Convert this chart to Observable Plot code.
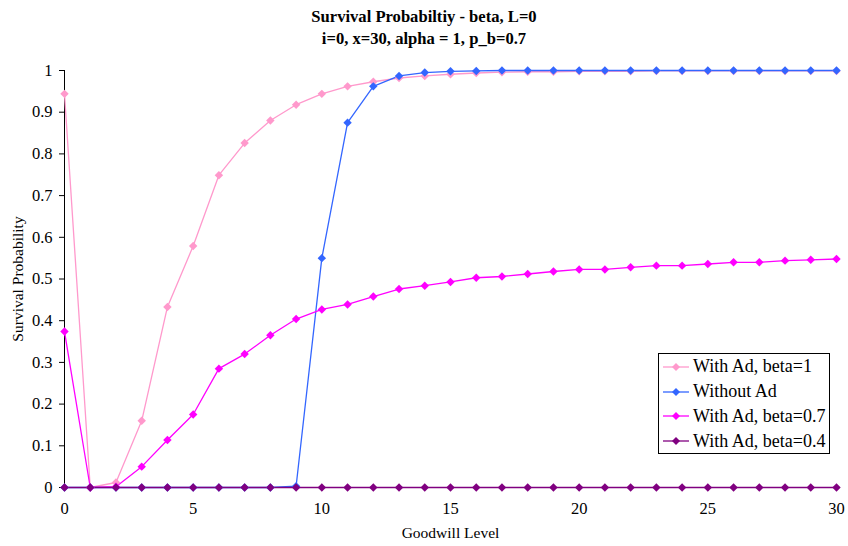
<!DOCTYPE html>
<html>
<head>
<meta charset="utf-8">
<script src="https://cdn.jsdelivr.net/npm/d3@7"></script>
<script src="https://cdn.jsdelivr.net/npm/@observablehq/plot@0.6"></script>
<style>
  html, body { margin: 0; padding: 0; background: #fff; }
  body { width: 848px; height: 546px; position: relative; font-family: "Liberation Serif", "Times New Roman", Times, "DejaVu Serif", serif; }
  #title { height: 50px; text-align: center; font-weight: bold; font-size: 16.6px; line-height: 22px; padding-top: 6px; box-sizing: border-box; color: #000; }
  #legend { position: absolute; left: 658px; top: 353px; width: 172px; height: 101px; border: 1px solid #000; background: #fff; box-sizing: border-box; font-size: 18px; padding-top: 0.5px; }
  .item { display: flex; align-items: center; height: 24.8px; white-space: nowrap; }
  .item svg { margin-left: 4px; margin-right: 4px; flex: none; }
  #chart svg, #chart svg text { font-family: "Liberation Serif", "Times New Roman", Times, "DejaVu Serif", serif !important; }
</style>
</head>
<body>
<div id="title">Survival Probabiltiy - beta, L=0<br>i=0, x=30, alpha = 1, p_b=0.7</div>
<div id="chart"></div>
<div id="legend"></div>
<script>
const levels = d3.range(0, 31);
const seriesNames = ["With Ad, beta=1", "Without Ad", "With Ad, beta=0.7", "With Ad, beta=0.4"];
const seriesColors = ["#FF99CC", "#3366FF", "#FF00FF", "#800080"];
const withAdBeta1 = [0.944, 0, 0.012, 0.16, 0.433, 0.579, 0.749, 0.826, 0.880, 0.918, 0.944, 0.962, 0.973, 0.982, 0.987, 0.991, 0.994, 0.996, 0.997, 0.997, 0.998, 0.998, 0.998, 0.999, 0.999, 0.999, 0.999, 0.999, 0.999, 0.999, 0.999];
const withoutAd = [0, 0, 0, 0, 0, 0, 0, 0, 0, 0.003, 0.55, 0.875, 0.962, 0.987, 0.995, 0.998, 0.999, 1, 1, 1, 1, 1, 1, 1, 1, 1, 1, 1, 1, 1, 1];
const withAdBeta07 = [0.374, 0, 0.002, 0.05, 0.114, 0.175, 0.285, 0.32, 0.365, 0.404, 0.427, 0.439, 0.458, 0.476, 0.484, 0.493, 0.503, 0.506, 0.512, 0.518, 0.523, 0.523, 0.528, 0.532, 0.532, 0.536, 0.540, 0.540, 0.544, 0.546, 0.548];
const withAdBeta04 = [0, 0, 0, 0, 0, 0, 0, 0, 0, 0, 0, 0, 0, 0, 0, 0, 0, 0, 0, 0, 0, 0, 0, 0, 0, 0, 0, 0, 0, 0, 0];
const yTicks = [0, 0.1, 0.2, 0.3, 0.4, 0.5, 0.6, 0.7, 0.8, 0.9, 1];
const xTicks = [0, 5, 10, 15, 20, 25, 30];

const allValues = [withAdBeta1, withoutAd, withAdBeta07, withAdBeta04];
const data = [];
allValues.forEach((vals, si) => vals.forEach((v, i) => data.push({level: levels[i], value: v, series: seriesNames[si]})));

const serif = "'Liberation Serif', 'Times New Roman', Times, 'DejaVu Serif', serif";
const chart = Plot.plot({
  width: 848,
  height: 496,
  marginTop: 20,
  marginBottom: 59,
  marginLeft: 64,
  marginRight: 12,
  style: {fontFamily: serif, fontSize: "16px", color: "#000", background: "#fff"},
  x: {domain: [0, 30], ticks: xTicks, tickFormat: d => String(d), label: null},
  y: {domain: [0, 1], ticks: yTicks, tickFormat: d => String(d), label: null},
  color: {domain: seriesNames, range: seriesColors},
  marks: [
    Plot.ruleX([0], {stroke: "#000", strokeWidth: 1}),
    Plot.ruleY([0], {stroke: "#000", strokeWidth: 1}),
    Plot.axisY({ticks: yTicks, tickFormat: d => String(d), tickSize: 5, tickPadding: 7, fontSize: 16.5, label: null}),
    Plot.axisX({ticks: xTicks, tickFormat: d => String(d), tickSize: 4, tickPadding: 11, fontSize: 16.5, label: null}),
    Plot.text(["Goodwill Level"], {frameAnchor: "bottom", dy: 50, fontSize: 15.5, text: d => d}),
    Plot.text(["Survival Probability"], {frameAnchor: "left", textAnchor: "middle", dx: -46, rotate: -90, fontSize: 15.5, text: d => d}),
    Plot.line(data, {x: "level", y: "value", z: "series", stroke: "series", strokeWidth: 1.3}),
    Plot.dot(data, {x: "level", y: "value", fill: "series", symbol: "diamond2", r: 3.8, stroke: "none"})
  ]
});
document.getElementById("chart").appendChild(chart);

const legend = document.getElementById("legend");
seriesNames.forEach((name, i) => {
  const row = document.createElement("div");
  row.className = "item";
  row.innerHTML = `<svg width="26" height="12"><line x1="0" y1="6" x2="26" y2="6" stroke="${seriesColors[i]}" stroke-width="1.3"/><path d="M13,2 L17,6 L13,10 L9,6 Z" fill="${seriesColors[i]}"/></svg><span>${name}</span>`;
  legend.appendChild(row);
});
</script>
</body>
</html>
